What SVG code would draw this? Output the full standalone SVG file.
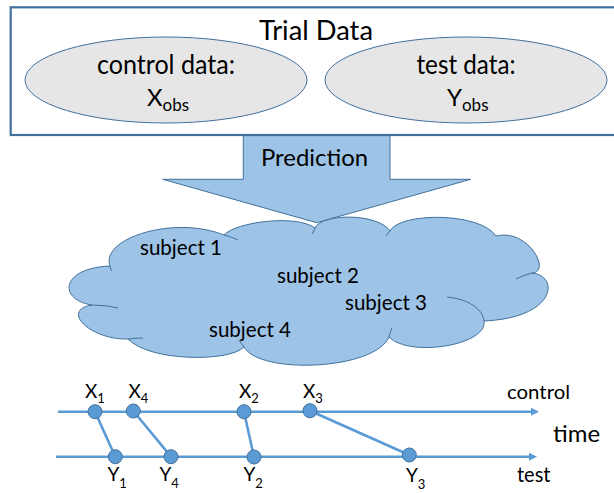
<svg xmlns="http://www.w3.org/2000/svg" width="614" height="493" viewBox="0 0 614 493">
<style>
text{font-family:Lato,"Open Sans","Liberation Sans",sans-serif;fill:#000}
.oval{fill:#E7E6E6;stroke:#41719C;stroke-width:1}
.blue{fill:#9DC3E6;stroke:#41719C;stroke-width:1}
.inner{fill:none;stroke:#41719C;stroke-width:1}
.tl{stroke:#5B9BD5;stroke-width:2.6;fill:none}
.dot{fill:#5B9BD5;stroke:#41719C;stroke-width:1}
.lbl{font-size:19px}
.sub{font-size:13px}
</style>
<defs>
<marker id="ah" viewBox="0 0 8 8" refX="1" refY="4" markerWidth="8" markerHeight="8" markerUnits="userSpaceOnUse" orient="auto">
<path d="M0,0 L8,4 L0,8 z" fill="#5B9BD5"/>
</marker>
</defs>
<g id="prediction-arrow">
<path class="blue" d="M243.3,130 L390,130 L390,179.3 L470.7,179.3 L316.7,222.7 L162.7,179.3 L243.3,179.3 Z"/>
<text x="261" y="166" font-size="24" textLength="107" lengthAdjust="spacingAndGlyphs">Prediction</text>
</g>
<g id="trial-data">
<rect x="10.7" y="7.3" width="606" height="127.7" fill="#fff" stroke="#41719C" stroke-width="2.2"/>
<text x="316" y="40" font-size="27" text-anchor="middle" textLength="114" lengthAdjust="spacingAndGlyphs">Trial Data</text>
</g>
<g id="control-data">
<ellipse class="oval" cx="166" cy="80" rx="141" ry="43"/>
<text x="166" y="74" font-size="26" text-anchor="middle" textLength="138" lengthAdjust="spacingAndGlyphs">control data:</text>
<text x="147" y="106" font-size="24">X<tspan font-size="17" dy="5">obs</tspan></text>
</g>
<g id="test-data">
<ellipse class="oval" cx="466" cy="80" rx="141" ry="43"/>
<text x="466" y="74" font-size="26" text-anchor="middle" textLength="99" lengthAdjust="spacingAndGlyphs">test data:</text>
<text x="447" y="106" font-size="24">Y<tspan font-size="17" dy="5">obs</tspan></text>
</g>
<g id="subjects-cloud">
<path class="blue" d="M110,266 C100,238 175,215 224,235 C236,222 296,214 315,228 C322,213 378,213 390,231 C400,212 480,212 496,236 C528,228 552,272 532,273 C560,276 556,318 484,321 C488,345 410,358 389,337 C375,370 260,375 244,347 C230,362 150,362 128,339 C90,340 60,310 92,305 C58,300 60,268 110,266 Z"/>
<path class="inner" d="M224,235 Q232,237 238,240 M315,228 Q314,231 312,234 M390,231 Q388,233 386,236 M532,273 Q524,275 516,279 M484,321 C483,309 468,299 447,297 M389,337 Q390,332 392,328 M244,347 Q241,343 239,340 M128,339 Q136,338 143,338 M92,305 Q106,305 118,308 M110,266 Q110,268 112,271"/>
<text x="140" y="255" font-size="21" textLength="82" lengthAdjust="spacingAndGlyphs">subject 1</text>
<text x="277" y="283" font-size="21" textLength="82" lengthAdjust="spacingAndGlyphs">subject 2</text>
<text x="345" y="310" font-size="21" textLength="82" lengthAdjust="spacingAndGlyphs">subject 3</text>
<text x="209" y="337" font-size="21" textLength="82" lengthAdjust="spacingAndGlyphs">subject 4</text>
</g>
<g id="connectors">
<line class="tl" x1="58" y1="411.7" x2="532" y2="411.7" marker-end="url(#ah)"/>
<line class="tl" x1="56" y1="456.7" x2="530" y2="456.7" marker-end="url(#ah)"/>
<line class="tl" x1="95" y1="411.7" x2="115.3" y2="456.7"/>
<line class="tl" x1="133.3" y1="411" x2="171" y2="456.7"/>
<line class="tl" x1="244" y1="411.7" x2="254" y2="457"/>
<line class="tl" x1="310" y1="410.7" x2="409.3" y2="455"/>
</g>
<g id="control-events">
<circle class="dot" cx="95" cy="411.7" r="7"/>
<circle class="dot" cx="133.3" cy="411" r="7"/>
<circle class="dot" cx="244" cy="411.7" r="7"/>
<circle class="dot" cx="310" cy="410.7" r="7"/>
<text class="lbl" x="85" y="398.3">X<tspan class="sub" dy="5">1</tspan></text>
<text class="lbl" x="128.5" y="398.3">X<tspan class="sub" dy="5">4</tspan></text>
<text class="lbl" x="239" y="398.3">X<tspan class="sub" dy="5">2</tspan></text>
<text class="lbl" x="303" y="398.3">X<tspan class="sub" dy="5">3</tspan></text>
<text x="507" y="399.3" font-size="20" textLength="63" lengthAdjust="spacingAndGlyphs">control</text>
</g>
<g id="test-events">
<circle class="dot" cx="115.3" cy="456.7" r="7"/>
<circle class="dot" cx="171" cy="456.7" r="7"/>
<circle class="dot" cx="254" cy="457" r="7"/>
<circle class="dot" cx="409.3" cy="455" r="7"/>
<text class="lbl" x="107.5" y="480.5">Y<tspan class="sub" dy="7">1</tspan></text>
<text class="lbl" x="159.5" y="480.5">Y<tspan class="sub" dy="7">4</tspan></text>
<text class="lbl" x="243.5" y="480.5">Y<tspan class="sub" dy="7">2</tspan></text>
<text class="lbl" x="406" y="481.5">Y<tspan class="sub" dy="7">3</tspan></text>
<text x="517" y="481.7" font-size="21" textLength="33.5" lengthAdjust="spacingAndGlyphs">test</text>
</g>
<g id="time-label">
<text x="553" y="441.7" font-size="24" textLength="47" lengthAdjust="spacingAndGlyphs">time</text>
</g>
</svg>
